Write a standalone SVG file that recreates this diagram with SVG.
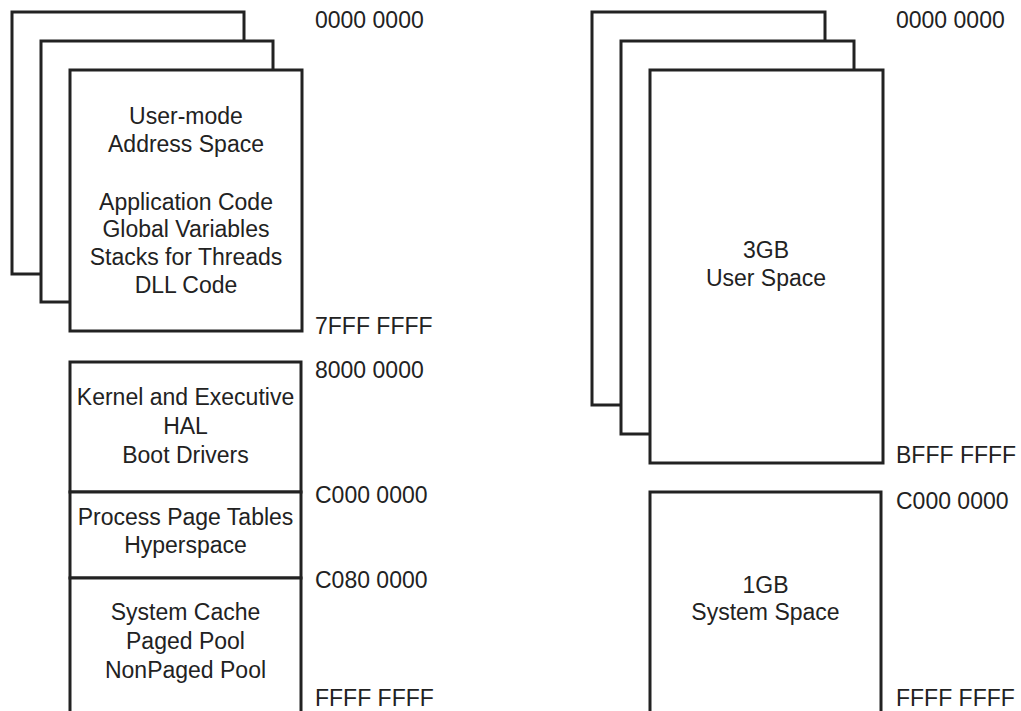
<svg xmlns="http://www.w3.org/2000/svg" width="1021" height="711" viewBox="0 0 1021 711">
<style>
.box{fill:#fff;stroke:#222;stroke-width:3}
.t{font-family:"Liberation Sans",Arial,sans-serif;font-size:23px;fill:#222}
.c{text-anchor:middle}
</style>
<rect width="1021" height="711" fill="#fff"/>
<g id="left-user-stack">
<rect class="box" x="12" y="12" width="232" height="262"/>
<rect class="box" x="41" y="41" width="232" height="261"/>
<rect class="box" x="70" y="70" width="232" height="261"/>
<text class="t c" x="186" y="124">User-mode</text>
<text class="t c" x="186" y="152">Address Space</text>
<text class="t c" x="186" y="210">Application Code</text>
<text class="t c" x="186" y="237">Global Variables</text>
<text class="t c" x="186" y="265">Stacks for Threads</text>
<text class="t c" x="186" y="293">DLL Code</text>
</g>
<g id="left-kernel">
<rect class="box" x="70" y="362" width="231" height="130"/>
<text class="t c" x="185.5" y="405">Kernel and Executive</text>
<text class="t c" x="185.5" y="434">HAL</text>
<text class="t c" x="185.5" y="463">Boot Drivers</text>
</g>
<g id="left-pagetables">
<rect class="box" x="70" y="492" width="231" height="86"/>
<text class="t c" x="185.5" y="525">Process Page Tables</text>
<text class="t c" x="185.5" y="553">Hyperspace</text>
</g>
<g id="left-system">
<rect class="box" x="70" y="578" width="231" height="140"/>
<text class="t c" x="185.5" y="620">System Cache</text>
<text class="t c" x="185.5" y="649">Paged Pool</text>
<text class="t c" x="185.5" y="678">NonPaged Pool</text>
</g>
<g id="right-user-stack">
<rect class="box" x="592" y="12" width="233" height="393"/>
<rect class="box" x="621" y="41" width="233" height="393"/>
<rect class="box" x="650" y="70" width="233" height="393"/>
<text class="t c" x="766" y="258">3GB</text>
<text class="t c" x="766" y="286">User Space</text>
</g>
<g id="right-system">
<rect class="box" x="650" y="492" width="231" height="226"/>
<text class="t c" x="765.5" y="593">1GB</text>
<text class="t c" x="765.5" y="620">System Space</text>
</g>
<g id="address-labels">
<text class="t" x="315" y="28">0000 0000</text>
<text class="t" x="315" y="334">7FFF FFFF</text>
<text class="t" x="315" y="378">8000 0000</text>
<text class="t" x="315" y="503">C000 0000</text>
<text class="t" x="315" y="588">C080 0000</text>
<text class="t" x="315" y="706">FFFF FFFF</text>
<text class="t" x="896" y="28">0000 0000</text>
<text class="t" x="896" y="463">BFFF FFFF</text>
<text class="t" x="896" y="509">C000 0000</text>
<text class="t" x="896" y="706">FFFF FFFF</text>
</g>
</svg>
